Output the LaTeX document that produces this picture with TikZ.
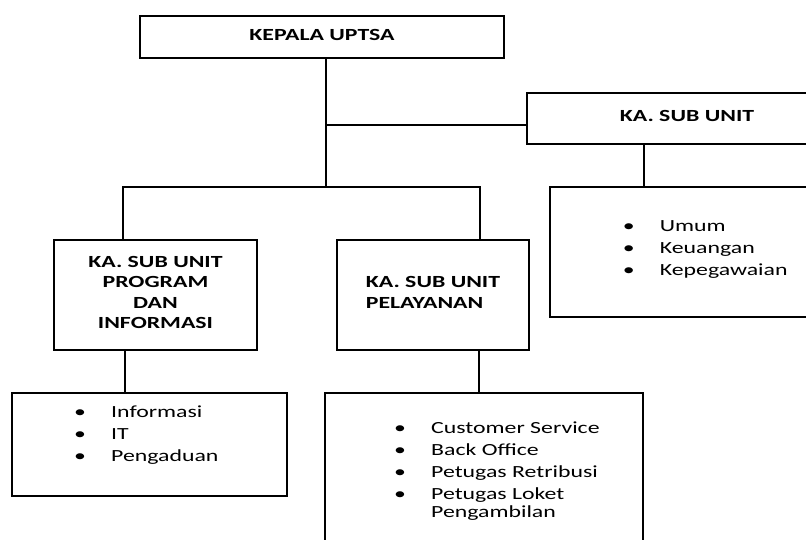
\documentclass[tikz,border=0pt]{standalone}
\usepackage{fontspec}
\setmainfont{Carlito}[FakeStretch=1.4]
\newcommand{\headfont}{\fontsize{17}{20.5}\selectfont\bfseries}
\newcommand{\itemfont}{\fontsize{17}{22}\selectfont}
\newcommand{\itm}{\makebox[37pt][l]{\textbullet}}
\tikzset{
	unitbox/.style={draw,line width=2.2pt,inner sep=0pt,text depth=5pt,font=\headfont},
	listbox/.style={draw,line width=2.2pt,inner sep=0pt},
	items/.style={inner sep=0pt,anchor=base west,font=\itemfont},
	link/.style={line width=1.2pt}
}

\begin{document}
\begin{tikzpicture}[x=1pt,y=-1pt]
				\useasboundingbox (0,0) rectangle (806,540);
				\clip (0,0) rectangle (806,540);
				% the head and the unit boxes
				\node[unitbox,minimum width=364pt,minimum height=42pt] (kepala) at (322,37) {KEPALA UPTSA};
				\node[unitbox,minimum width=320pt,minimum height=51pt] (kasub) at (687,118.5) {KA. SUB UNIT};
				\node[unitbox,minimum width=203pt,minimum height=110pt,align=center] (prog) at (155.5,295)
					{KA. SUB UNIT\\PROGRAM\\DAN\\INFORMASI};
				\node[unitbox,minimum width=192pt,minimum height=110pt,align=left] (pel) at (433,295)
					{KA. SUB UNIT\\PELAYANAN};
				% the boxes with the tasks of each unit
				\node[listbox,minimum width=290pt,minimum height=130pt] (umum) at (695,252) {};
				\node[listbox,minimum width=275pt,minimum height=103pt] (info) at (149.5,444.5) {};
				\node[listbox,minimum width=318pt,minimum height=177pt] (layanan) at (484,481.5) {};
				\node[items] (umumlist) at (622.7,231.7) {\begin{tabular}[t]{@{}l@{}}
					\itm Umum\\ \itm Keuangan\\ \itm Kepegawaian\end{tabular}};
				\node[items] (infolist) at (74,417.3) {\begin{tabular}[t]{@{}l@{}}
					\itm Informasi\\ \itm IT\\ \itm Pengaduan\end{tabular}};
				\node[items] (layananlist) at (394,433.3) {\begin{tabular}[t]{@{}l@{}}
					\itm Customer Service\\ \itm Back Office\\ \itm Petugas Retribusi\\
					\itm Petugas Loket\\[-4pt] \hspace*{37pt}Pengambilan\end{tabular}};
				% the joints of the tree
				\coordinate (hub) at (326,187);
				\coordinate (jsub) at (326,125);
				\coordinate (jprog) at (123,187);
				\coordinate (jpel) at (480,187);
				\coordinate (jumum) at (644,0);
				\coordinate (jinfo) at (125,0);
				\coordinate (jlay) at (479,0);
				\draw[link] (kepala.south -| hub) -- (hub);
				\draw[link] (jsub) -- (jsub -| kasub.west);
				\draw[link] (prog.north -| jprog) -- (jprog) -- (jpel) -- (pel.north -| jpel);
				\draw[link] (kasub.south -| jumum) -- (umum.north -| jumum);
				\draw[link] (prog.south -| jinfo) -- (info.north -| jinfo);
				\draw[link] (pel.south -| jlay) -- (layanan.north -| jlay);
			\end{tikzpicture}
\end{document}
